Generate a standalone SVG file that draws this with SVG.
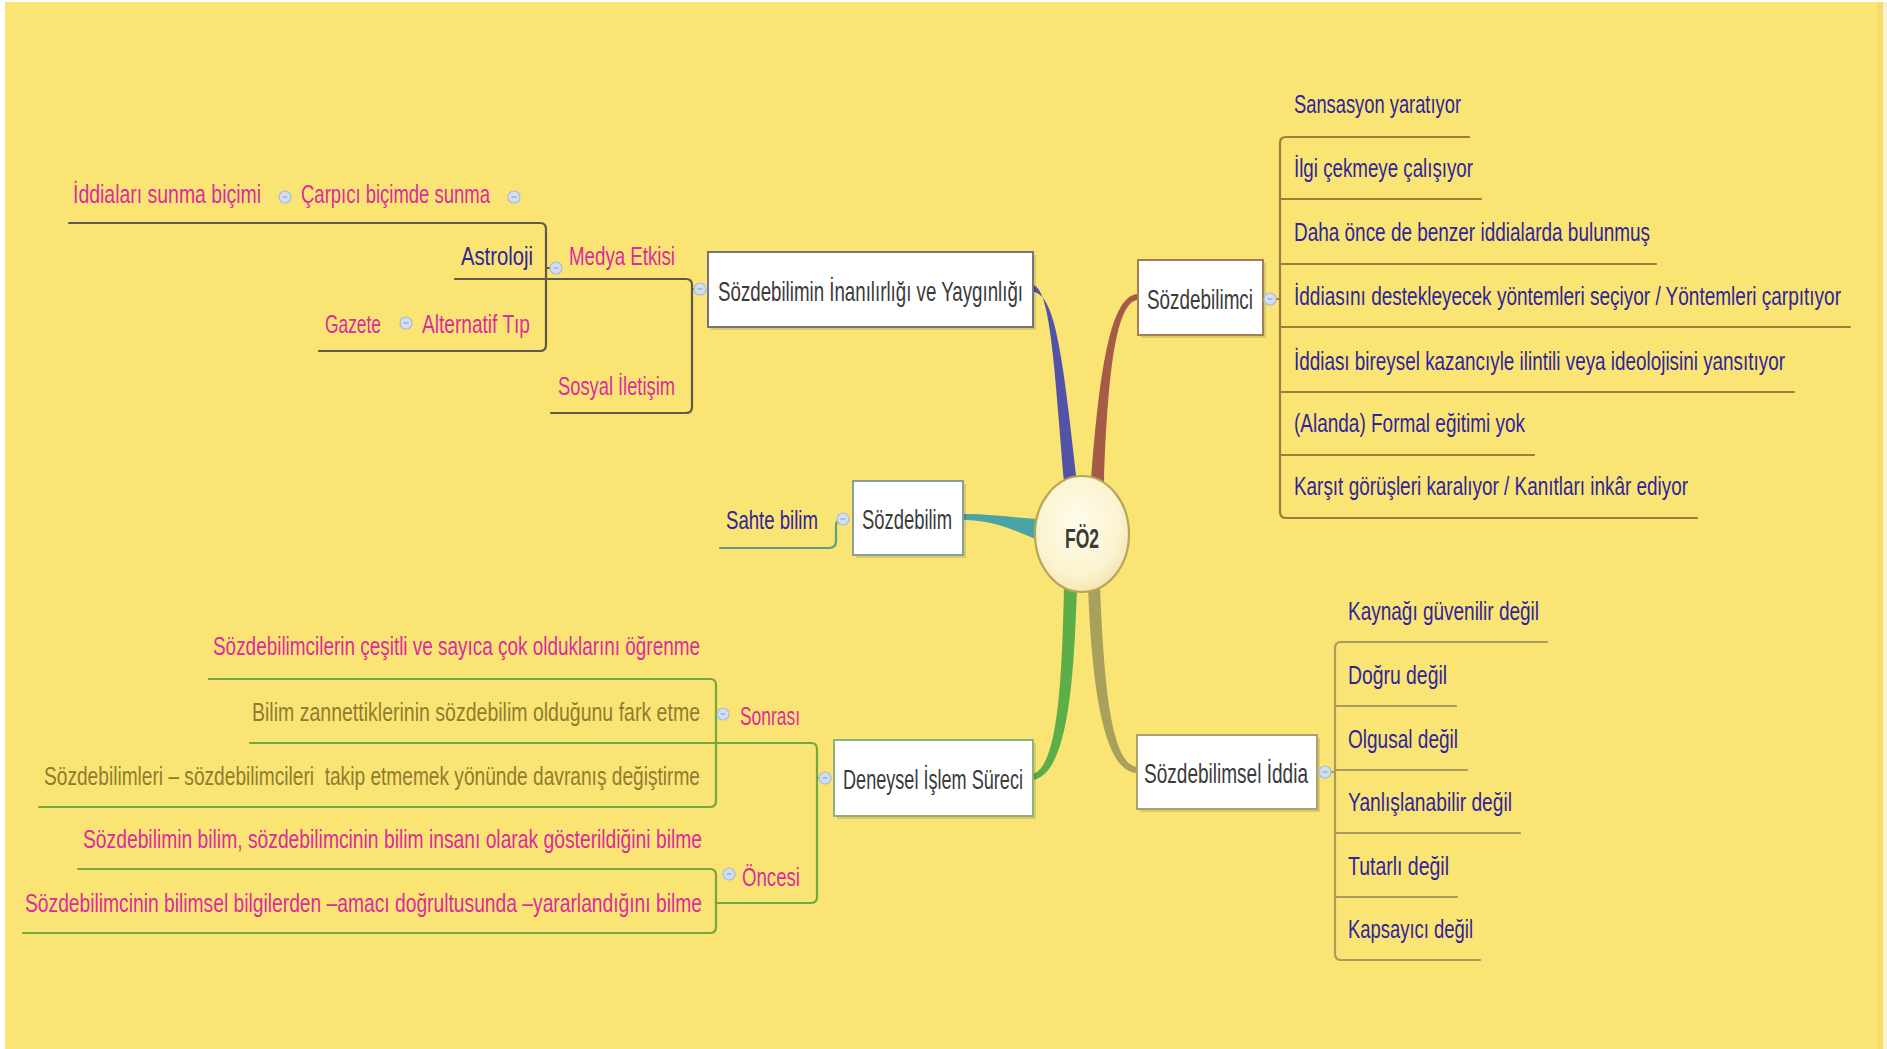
<svg xmlns="http://www.w3.org/2000/svg" width="1887" height="1049" viewBox="0 0 1887 1049">
  <defs>
    <radialGradient id="hubFill" cx="0.45" cy="0.4" r="0.65">
      <stop offset="0" stop-color="#FFFCEC"/>
      <stop offset="0.7" stop-color="#FBF3CF"/>
      <stop offset="1" stop-color="#F1E3A8"/>
    </radialGradient>
    <g id="toggle">
      <circle r="6" fill="#D3DEF0" stroke="#A9BCDB" stroke-width="1.2"/>
      <line x1="-2.5" y1="0" x2="2.5" y2="0" stroke="#8FA5CC" stroke-width="1.2"/>
    </g>
  </defs>
  <style>
    text { font-family: "Liberation Sans Narrow", "Arial Narrow", "Liberation Sans", sans-serif; }
    .node { font-size: 22px; fill: #3B3B3B; }
    .hubtxt { font-size: 22px; font-weight: bold; fill: #3A3A36; }
    .leaf { font-size: 21px; }
    .leaf.long { font-size: 19px; }
    .pink { fill: #DA2C9E; }
    .blue { fill: #30249A; }
    .olive { fill: #8F7C2F; }
    .box { fill: #FFFFFF; stroke-width: 2; }
    .shadow { fill: #000000; opacity: 0.12; }
    .ln { fill: none; stroke-width: 2.2; stroke-linecap: round; stroke-linejoin: round; }
    .ln-gray { stroke: #62584A; }
    .ln-brown { stroke: #9F7B3C; }
    .ln-olive { stroke: #A99B5E; }
    .ln-green { stroke: #74A83F; }
    .ln-teal { stroke: #5E9E86; }
  </style>

  <!-- canvas -->
  <rect x="0" y="0" width="1887" height="1049" fill="#FFFFFF"/>
  <rect x="5" y="2" width="1872" height="1047" fill="#FAE574"/>
  <rect x="1877" y="2" width="6" height="1047" fill="#F3DC6C"/>
  <rect x="1883" y="2" width="4" height="1047" fill="#FBF0D2"/>

  <!-- connectors -->
  <g id="connectors">
    <!-- main branches from the hub -->
    <path d="M1033,285 C1050,289 1054,360 1064,482 L1077,482 C1063,360 1056,294 1033,292 Z" fill="#5253A6"/>
    <path d="M1138,294 C1112,295 1100,360 1091,482 L1104,482 C1108,360 1118,301 1138,300 Z" fill="#A65A48"/>
    <path d="M963,514 C995,514 1015,518 1038,519 L1038,540 C1015,531 995,520 963,520 Z" fill="#4AA3A6"/>
    <path d="M1064,586 C1062,680 1058,766 1033,774 L1033,780 C1068,774 1074,680 1077,586 Z" fill="#5CAE48"/>
    <path d="M1088,586 C1092,690 1104,772 1137,773 L1137,767 C1112,764 1104,690 1100,586 Z" fill="#A8A05C"/>

    <!-- Sözdebilim subtree -->
    <path class="ln ln-teal" d="M720,548 L829,548 Q836,548 836,541 L836,526 Q836,519 843,519"/>

    <!-- Sözdebilimin İnanılırlığı ve Yaygınlığı subtree -->
    <path class="ln ln-gray" d="M455,279 L686,279 Q692,279 692,285 L692,407 Q692,413 686,413 L551,413"/>
    <path class="ln ln-gray" d="M692,289 L695,289"/>
    <path class="ln ln-gray" d="M69,223 L540,223 Q546,223 546,229 L546,345 Q546,351 540,351 L319,351"/>
    <path class="ln ln-gray" d="M546,268 L551,268"/>

    <!-- Sözdebilimci subtree -->
    <path class="ln ln-brown" d="M1469,137 L1286,137 Q1280,137 1280,143 L1280,512 Q1280,518 1286,518 L1697,518"/>
    <path class="ln ln-brown" d="M1280,199 L1481,199 M1280,264 L1656,264 M1280,327 L1850,327 M1280,392 L1794,392 M1280,455 L1534,455 M1276,299 L1280,299"/>

    <!-- Sözdebilimsel İddia subtree -->
    <path class="ln ln-olive" d="M1547,642 L1341,642 Q1335,642 1335,648 L1335,954 Q1335,960 1341,960 L1480,960"/>
    <path class="ln ln-olive" d="M1335,706 L1456,706 M1335,770 L1467,770 M1335,833 L1520,833 M1335,897 L1457,897 M1331,772 L1335,772"/>

    <!-- Deneysel İşlem Süreci subtree -->
    <path class="ln ln-green" d="M250,743 L811,743 Q817,743 817,749 L817,897 Q817,903 811,903 L722,903"/>
    <path class="ln ln-green" d="M817,778 L819,778"/>
    <path class="ln ln-green" d="M209,679 L710,679 Q716,679 716,685 L716,801 Q716,807 710,807 L39,807"/>
    <path class="ln ln-green" d="M78,869 L710,869 Q716,869 716,875 L716,927 Q716,933 710,933 L23,933"/>
    <path class="ln ln-green" d="M716,903 L722,903"/>
  </g>

  <!-- hub -->
  <g id="hub">
    <ellipse cx="1082" cy="534" rx="47" ry="58" fill="url(#hubFill)" stroke="#B7A65A" stroke-width="2.2"/>
    <text class="hubtxt" transform="translate(1065 548) scale(1 1.27)" textLength="34" lengthAdjust="spacingAndGlyphs">FÖ2</text>
  </g>

  <!-- main topics -->
  <g id="node-inanilirlik">
    <rect class="shadow" x="711" y="255" width="325" height="75"/>
    <rect class="box" x="708" y="252" width="325" height="75" stroke="#77737F"/>
    <text class="node" transform="translate(718 301) scale(1 1.25)" textLength="305" lengthAdjust="spacingAndGlyphs">Sözdebilimin İnanılırlığı ve Yaygınlığı</text>
    <use href="#toggle" x="700" y="289"/>
  </g>

  <g id="node-sozdebilimci">
    <rect class="shadow" x="1141" y="263" width="125" height="75"/>
    <rect class="box" x="1138" y="260" width="125" height="75" stroke="#A57E52"/>
    <text class="node" transform="translate(1147 309) scale(1 1.25)" textLength="106" lengthAdjust="spacingAndGlyphs">Sözdebilimci</text>
    <use href="#toggle" x="1270" y="299"/>
  </g>

  <g id="node-sozdebilim">
    <rect class="shadow" x="856" y="484" width="110" height="74"/>
    <rect class="box" x="853" y="481" width="110" height="74" stroke="#8A9E98"/>
    <text class="node" transform="translate(862 529) scale(1 1.25)" textLength="90" lengthAdjust="spacingAndGlyphs">Sözdebilim</text>
    <use href="#toggle" x="843" y="519"/>
  </g>

  <g id="node-deneysel">
    <rect class="shadow" x="837" y="743" width="199" height="76"/>
    <rect class="box" x="834" y="740" width="199" height="76" stroke="#8DB27A"/>
    <text class="node" transform="translate(843 789) scale(1 1.25)" textLength="180" lengthAdjust="spacingAndGlyphs">Deneysel İşlem Süreci</text>
    <use href="#toggle" x="825" y="778"/>
  </g>

  <g id="node-iddia">
    <rect class="shadow" x="1140" y="738" width="180" height="74"/>
    <rect class="box" x="1137" y="735" width="180" height="74" stroke="#ABA06E"/>
    <text class="node" transform="translate(1144 783) scale(1 1.25)" textLength="164" lengthAdjust="spacingAndGlyphs">Sözdebilimsel İddia</text>
    <use href="#toggle" x="1325" y="772"/>
  </g>

  <!-- Sözdebilim children -->
  <g id="leaf-sahte-bilim">
    <text class="leaf blue" transform="translate(726 529) scale(1 1.2)" textLength="92" lengthAdjust="spacingAndGlyphs">Sahte bilim</text>
  </g>

  <!-- İnanılırlık children -->
  <g id="leaf-medya">
    <text class="leaf pink" transform="translate(569 265) scale(1 1.2)" textLength="106" lengthAdjust="spacingAndGlyphs">Medya Etkisi</text>
    <use href="#toggle" x="556" y="268"/>
  </g>
  <g id="leaf-sosyal">
    <text class="leaf pink" transform="translate(558 395) scale(1 1.2)" textLength="117" lengthAdjust="spacingAndGlyphs">Sosyal İletişim</text>
  </g>
  <g id="leaf-carpici">
    <text class="leaf pink" transform="translate(301 203) scale(1 1.2)" textLength="189" lengthAdjust="spacingAndGlyphs">Çarpıcı biçimde sunma</text>
    <use href="#toggle" x="285" y="197"/>
    <use href="#toggle" x="514" y="197"/>
  </g>
  <g id="leaf-iddialari">
    <text class="leaf pink" transform="translate(73 203) scale(1 1.2)" textLength="188" lengthAdjust="spacingAndGlyphs">İddiaları sunma biçimi</text>
  </g>
  <g id="leaf-astroloji">
    <text class="leaf blue" transform="translate(461 265) scale(1 1.2)" textLength="72" lengthAdjust="spacingAndGlyphs">Astroloji</text>
  </g>
  <g id="leaf-alternatif">
    <text class="leaf pink" transform="translate(422 333) scale(1 1.2)" textLength="108" lengthAdjust="spacingAndGlyphs">Alternatif Tıp</text>
    <use href="#toggle" x="406" y="323"/>
  </g>
  <g id="leaf-gazete">
    <text class="leaf pink" transform="translate(325 333) scale(1 1.2)" textLength="56" lengthAdjust="spacingAndGlyphs">Gazete</text>
  </g>

  <!-- Sözdebilimci children -->
  <g id="leaves-sozdebilimci">
    <text class="leaf blue" transform="translate(1294 113) scale(1 1.2)" textLength="167" lengthAdjust="spacingAndGlyphs">Sansasyon yaratıyor</text>
    <text class="leaf blue" transform="translate(1294 177) scale(1 1.2)" textLength="179" lengthAdjust="spacingAndGlyphs">İlgi çekmeye çalışıyor</text>
    <text class="leaf blue" transform="translate(1294 241) scale(1 1.2)" textLength="356" lengthAdjust="spacingAndGlyphs">Daha önce de benzer iddialarda bulunmuş</text>
    <text class="leaf long blue" transform="translate(1294 305) scale(1 1.32)" textLength="547" lengthAdjust="spacingAndGlyphs">İddiasını destekleyecek yöntemleri seçiyor / Yöntemleri çarpıtıyor</text>
    <text class="leaf blue" transform="translate(1294 370) scale(1 1.2)" textLength="491" lengthAdjust="spacingAndGlyphs">İddiası bireysel kazancıyle ilintili veya ideolojisini yansıtıyor</text>
    <text class="leaf blue" transform="translate(1294 432) scale(1 1.2)" textLength="231" lengthAdjust="spacingAndGlyphs">(Alanda) Formal eğitimi yok</text>
    <text class="leaf blue" transform="translate(1294 495) scale(1 1.2)" textLength="394" lengthAdjust="spacingAndGlyphs">Karşıt görüşleri karalıyor / Kanıtları inkâr ediyor</text>
  </g>

  <!-- Sözdebilimsel İddia children -->
  <g id="leaves-iddia">
    <text class="leaf blue" transform="translate(1348 620) scale(1 1.2)" textLength="191" lengthAdjust="spacingAndGlyphs">Kaynağı güvenilir değil</text>
    <text class="leaf blue" transform="translate(1348 684) scale(1 1.2)" textLength="99" lengthAdjust="spacingAndGlyphs">Doğru değil</text>
    <text class="leaf blue" transform="translate(1348 748) scale(1 1.2)" textLength="110" lengthAdjust="spacingAndGlyphs">Olgusal değil</text>
    <text class="leaf blue" transform="translate(1348 811) scale(1 1.2)" textLength="164" lengthAdjust="spacingAndGlyphs">Yanlışlanabilir değil</text>
    <text class="leaf blue" transform="translate(1348 875) scale(1 1.2)" textLength="101" lengthAdjust="spacingAndGlyphs">Tutarlı değil</text>
    <text class="leaf blue" transform="translate(1348 938) scale(1 1.2)" textLength="125" lengthAdjust="spacingAndGlyphs">Kapsayıcı değil</text>
  </g>

  <!-- Deneysel İşlem Süreci children -->
  <g id="leaf-sonrasi">
    <text class="leaf pink" transform="translate(740 725) scale(1 1.2)" textLength="60" lengthAdjust="spacingAndGlyphs">Sonrası</text>
    <use href="#toggle" x="723" y="714"/>
  </g>
  <g id="leaf-oncesi">
    <text class="leaf pink" transform="translate(742 886) scale(1 1.2)" textLength="58" lengthAdjust="spacingAndGlyphs">Öncesi</text>
    <use href="#toggle" x="729" y="874"/>
  </g>
  <g id="leaves-sonrasi">
    <text class="leaf pink" transform="translate(213 655) scale(1 1.2)" textLength="487" lengthAdjust="spacingAndGlyphs">Sözdebilimcilerin çeşitli ve sayıca çok olduklarını öğrenme</text>
    <text class="leaf olive" transform="translate(252 721) scale(1 1.2)" textLength="448" lengthAdjust="spacingAndGlyphs">Bilim zannettiklerinin sözdebilim olduğunu fark etme</text>
    <text class="leaf olive" transform="translate(44 785) scale(1 1.2)" textLength="656" lengthAdjust="spacingAndGlyphs" xml:space="preserve">Sözdebilimleri – sözdebilimcileri  takip etmemek yönünde davranış değiştirme</text>
  </g>
  <g id="leaves-oncesi">
    <text class="leaf pink" transform="translate(83 848) scale(1 1.2)" textLength="619" lengthAdjust="spacingAndGlyphs">Sözdebilimin bilim, sözdebilimcinin bilim insanı olarak gösterildiğini bilme</text>
    <text class="leaf pink" transform="translate(25 912) scale(1 1.2)" textLength="677" lengthAdjust="spacingAndGlyphs">Sözdebilimcinin bilimsel bilgilerden –amacı doğrultusunda –yararlandığını bilme</text>
  </g>
</svg>
